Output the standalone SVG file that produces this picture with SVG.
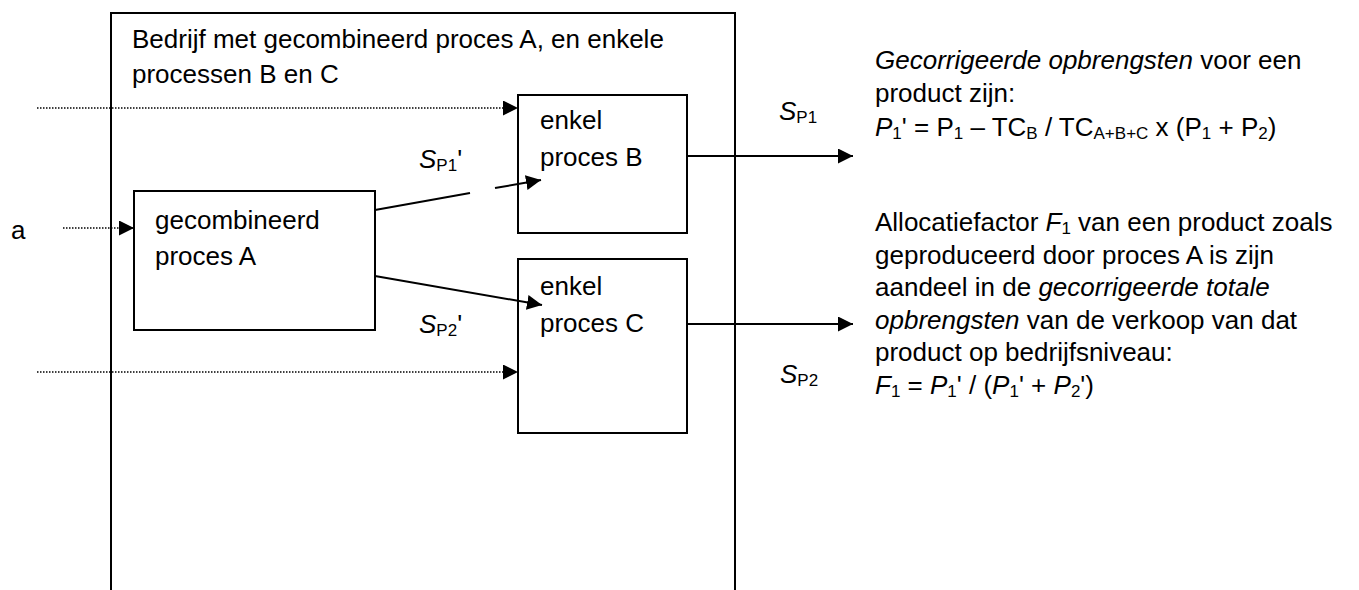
<svg xmlns="http://www.w3.org/2000/svg" width="1359" height="590" viewBox="0 0 1359 590">
<style>
text{font-family:"Liberation Sans",Arial,sans-serif;font-size:26px;fill:#000}
.box{fill:#fff;stroke:#000;stroke-width:2}
.solid{fill:none;stroke:#000;stroke-width:2}
.dot{fill:none;stroke:#000;stroke-width:1.5;stroke-dasharray:1.5 1.5}
.sub{font-size:17px}
.i{font-style:italic}
</style>
<defs>
<marker id="ah" markerUnits="userSpaceOnUse" markerWidth="16" markerHeight="15" refX="15" refY="7.5" orient="auto">
<path d="M0,0 L15,7.5 L0,15 Z" fill="#000"/>
</marker>
</defs>
<g id="company">
<path class="solid" d="M111,592 V13 H735 V592"/>
<text x="132" y="48">Bedrijf met gecombineerd proces A, en enkele</text>
<text x="132" y="83">processen B en C</text>
</g>
<g id="processA">
<rect class="box" x="134" y="191" width="241" height="139"/>
<text x="155" y="229">gecombineerd</text>
<text x="155" y="265">proces A</text>
</g>
<g id="processB">
<rect class="box" x="518" y="95" width="169" height="138"/>
<text x="540" y="129">enkel</text>
<text x="540" y="166">proces B</text>
</g>
<g id="processC">
<rect class="box" x="518" y="259" width="169" height="174"/>
<text x="540" y="295">enkel</text>
<text x="540" y="332">proces C</text>
</g>
<g id="input-a">
<text x="11" y="239">a</text>
</g>
<g id="connectors">
<line class="dot" x1="37" y1="108" x2="518" y2="108" marker-end="url(#ah)"/>
<line class="dot" x1="63" y1="228" x2="134" y2="228" marker-end="url(#ah)"/>
<line class="dot" x1="37" y1="372" x2="518" y2="372" marker-end="url(#ah)"/>
<line class="solid" x1="375" y1="210" x2="470" y2="193"/>
<line class="solid" x1="495" y1="188" x2="541" y2="180" marker-end="url(#ah)"/>
<line class="solid" x1="375" y1="276" x2="542" y2="305" marker-end="url(#ah)"/>
<line class="solid" x1="687" y1="156" x2="853" y2="156" marker-end="url(#ah)"/>
<line class="solid" x1="687" y1="324" x2="853" y2="324" marker-end="url(#ah)"/>
</g>
<g id="labels">
<text x="419" y="168"><tspan class="i">S</tspan><tspan class="sub" dy="3">P1</tspan><tspan dy="-3">'</tspan></text>
<text x="419" y="333"><tspan class="i">S</tspan><tspan class="sub" dy="3">P2</tspan><tspan dy="-3">'</tspan></text>
<text x="779" y="120"><tspan class="i">S</tspan><tspan class="sub" dy="3">P1</tspan></text>
<text x="780" y="383"><tspan class="i">S</tspan><tspan class="sub" dy="3">P2</tspan></text>
</g>
<g id="explanation">
<text x="875" y="69"><tspan class="i">Gecorrigeerde opbrengsten</tspan> voor een</text>
<text x="875" y="102">product zijn:</text>
<text x="875" y="136"><tspan class="i">P</tspan><tspan class="sub" dy="3">1</tspan><tspan dy="-3">' = P</tspan><tspan class="sub" dy="3">1</tspan><tspan dy="-3"> – TC</tspan><tspan class="sub" dy="3">B</tspan><tspan dy="-3"> / TC</tspan><tspan class="sub" dy="3">A+B+C</tspan><tspan dy="-3"> x (P</tspan><tspan class="sub" dy="3">1</tspan><tspan dy="-3"> + P</tspan><tspan class="sub" dy="3">2</tspan><tspan dy="-3">)</tspan></text>
<text x="875" y="231">Allocatiefactor <tspan class="i">F</tspan><tspan class="sub" dy="3">1</tspan><tspan dy="-3"> van een product zoals</tspan></text>
<text x="875" y="264">geproduceerd door proces A is zijn</text>
<text x="875" y="296">aandeel in de <tspan class="i">gecorrigeerde totale</tspan></text>
<text x="875" y="329"><tspan class="i">opbrengsten</tspan> van de verkoop van dat</text>
<text x="875" y="361">product op bedrijfsniveau:</text>
<text x="875" y="394"><tspan class="i">F</tspan><tspan class="sub" dy="3">1</tspan><tspan dy="-3"> = </tspan><tspan class="i">P</tspan><tspan class="sub" dy="3">1</tspan><tspan dy="-3">' / (</tspan><tspan class="i">P</tspan><tspan class="sub" dy="3">1</tspan><tspan dy="-3">' + </tspan><tspan class="i">P</tspan><tspan class="sub" dy="3">2</tspan><tspan dy="-3">')</tspan></text>
</g>
</svg>
